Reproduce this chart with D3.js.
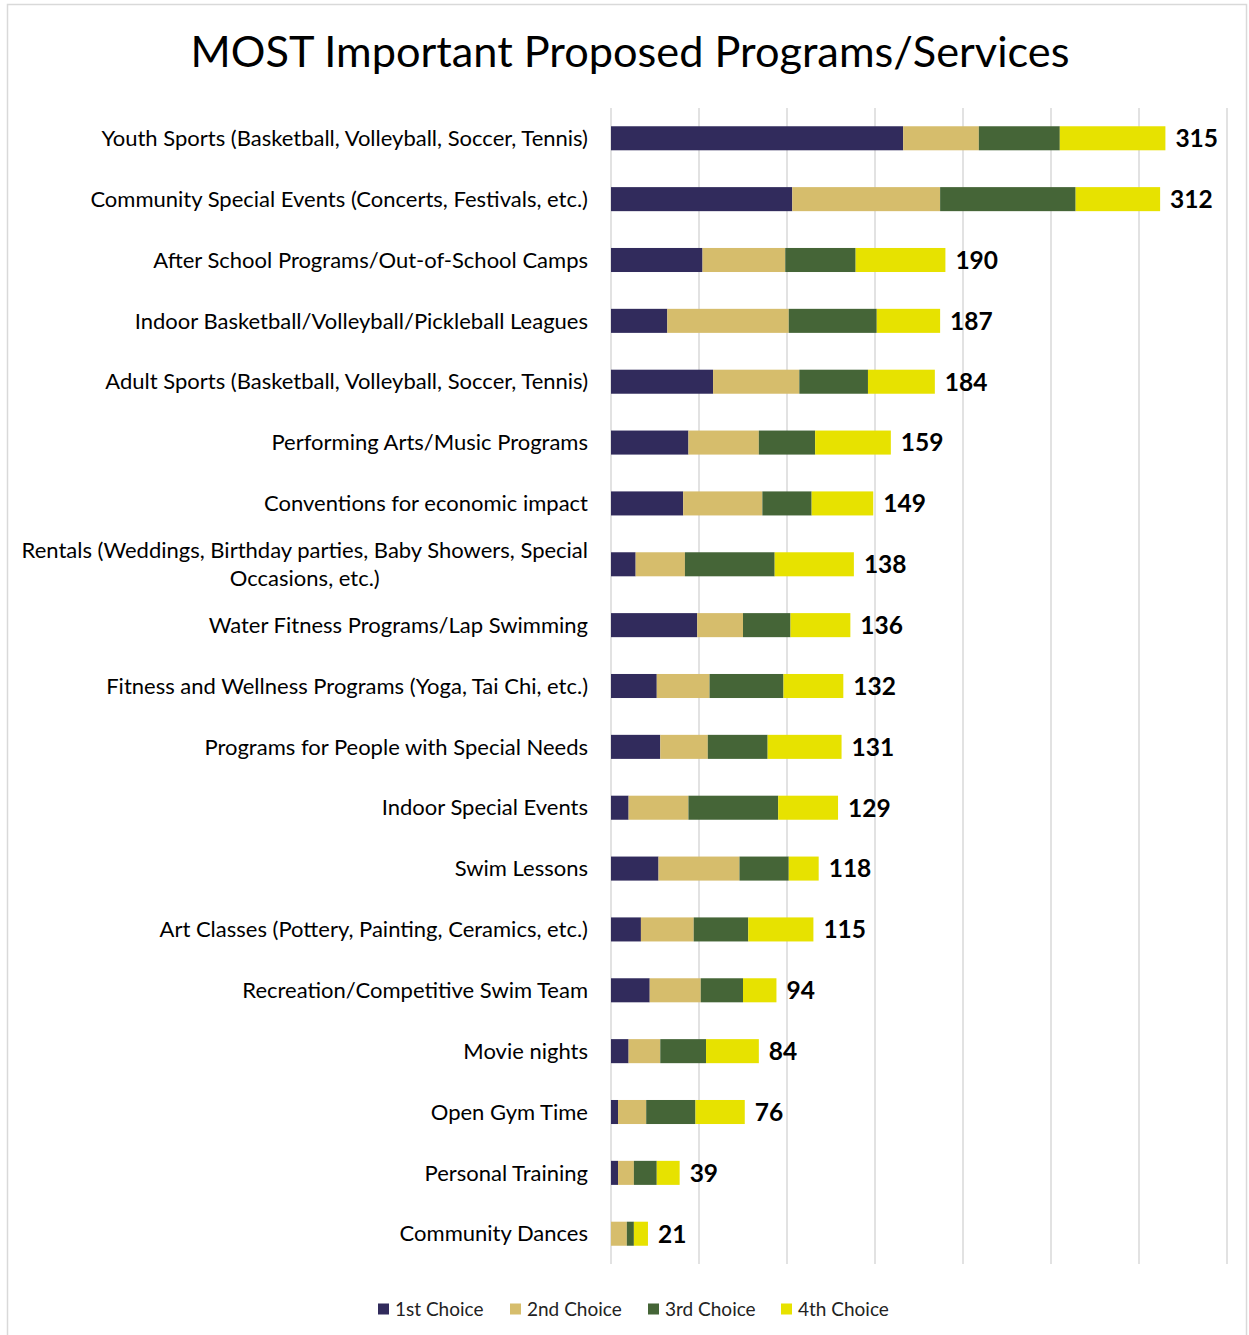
<!DOCTYPE html>
<html>
<head>
<meta charset="utf-8">
<script src="https://cdnjs.cloudflare.com/ajax/libs/d3/7.8.5/d3.min.js"></script>
<style>
  body { margin: 0; background: #fff; }
  text { font-family: Lato, "Open Sans", sans-serif; }
</style>
</head>
<body>
<div id="stacked-bar"></div>
<script>
var categories = [
  "Youth Sports (Basketball, Volleyball, Soccer, Tennis)",
  "Community Special Events (Concerts, Festivals, etc.)",
  "After School Programs/Out-of-School Camps",
  "Indoor Basketball/Volleyball/Pickleball Leagues",
  "Adult Sports (Basketball, Volleyball, Soccer, Tennis)",
  "Performing Arts/Music Programs",
  "Conventions for economic impact",
  "Rentals (Weddings, Birthday parties, Baby Showers, Special Occasions, etc.)",
  "Water Fitness Programs/Lap Swimming",
  "Fitness and Wellness Programs (Yoga, Tai Chi, etc.)",
  "Programs for People with Special Needs",
  "Indoor Special Events",
  "Swim Lessons",
  "Art Classes (Pottery, Painting, Ceramics, etc.)",
  "Recreation/Competitive Swim Team",
  "Movie nights",
  "Open Gym Time",
  "Personal Training",
  "Community Dances"
];
var seriesNames = ["1st Choice", "2nd Choice", "3rd Choice", "4th Choice"];
var first  = [166, 103, 52, 32, 58, 44, 41, 14, 49, 26, 28, 10, 27, 17, 22, 10, 4, 4, 0];
var second = [43, 84, 47, 69, 49, 40, 45, 28, 26, 30, 27, 34, 46, 30, 29, 18, 16, 9, 9];
var third  = [46, 77, 40, 50, 39, 32, 28, 51, 27, 42, 34, 51, 28, 31, 24, 26, 28, 13, 4];
var fourth = [60, 48, 51, 36, 38, 43, 35, 45, 34, 34, 42, 34, 17, 37, 19, 30, 28, 13, 8];
var xTicks = [0, 50, 100, 150, 200, 250, 300, 350];

var colors = ["#312b5c", "#d6bd6c", "#456537", "#e7e200"];

var W = 1249, H = 1335,
    x0 = 611, x1 = 1227, plotTop = 108, plotBottom = 1264;

var rows = categories.map(function(c, i) {
  return { cat: c, s0: first[i], s1: second[i], s2: third[i], s3: fourth[i],
           total: first[i] + second[i] + third[i] + fourth[i] };
});
var keys = ["s0", "s1", "s2", "s3"];

var svg = d3.select("#stacked-bar").append("svg")
  .attr("width", W).attr("height", H);

// chart border
svg.append("rect")
  .attr("x", 7.5).attr("y", 4.5).attr("width", 1239).attr("height", 1340)
  .attr("fill", "#fff").attr("stroke", "#d9d9d9").attr("stroke-width", 1.5);

var xScale = d3.scaleLinear().domain([0, 350]).range([x0, x1]);
var yScale = d3.scaleBand().domain(categories).range([plotTop, plotBottom])
  .paddingInner(0.605).paddingOuter(0.3);

svg.append("text")
  .attr("x", 630).attr("y", 67)
  .attr("text-anchor", "middle")
  .style("font-size", "43.3px")
  .attr("fill", "#000")
  .text("MOST Important Proposed Programs/Services");

// vertical gridlines
svg.append("g").selectAll("line")
  .data(xTicks)
  .enter().append("line")
  .attr("x1", function(d) { return xScale(d); })
  .attr("x2", function(d) { return xScale(d); })
  .attr("y1", plotTop).attr("y2", plotBottom)
  .attr("stroke", "#d9d9d9").attr("stroke-width", 1.5);

var layers = d3.stack().keys(keys)(rows);

var layer = svg.selectAll(".layer")
  .data(layers)
  .enter().append("g")
  .attr("class", "layer")
  .style("fill", function(d, i) { return colors[i]; });

layer.selectAll("rect")
  .data(function(d) { return d; })
  .enter().append("rect")
  .attr("x", function(d) { return xScale(d[0]); })
  .attr("y", function(d) { return yScale(d.data.cat); })
  .attr("width", function(d) { return xScale(d[1]) - xScale(d[0]); })
  .attr("height", yScale.bandwidth());

// total labels
svg.append("g").selectAll("text")
  .data(rows)
  .enter().append("text")
  .attr("x", function(d) { return xScale(d.total) + 10; })
  .attr("y", function(d) { return yScale(d.cat) + yScale.bandwidth() / 2; })
  .attr("dy", "0.36em")
  .style("font-size", "24.5px").style("font-weight", "bold")
  .attr("fill", "#000")
  .text(function(d) { return d.total; });

// category labels, wrapped like Excel (centred when wrapped)
var labelRight = 588, maxW = 575, lineH = 28;
var catG = svg.append("g");
rows.forEach(function(d) {
  var cy = yScale(d.cat) + yScale.bandwidth() / 2;
  var t = catG.append("text").style("font-size", "22px").attr("fill", "#000");
  var words = d.cat.split(" "), lines = [], line = [];
  words.forEach(function(w) {
    line.push(w);
    t.text(line.join(" "));
    if (t.node().getComputedTextLength() > maxW && line.length > 1) {
      line.pop();
      lines.push(line.join(" "));
      line = [w];
    }
  });
  lines.push(line.join(" "));
  t.text(null);
  if (lines.length == 1) {
    t.attr("x", labelRight).attr("y", cy).attr("dy", "0.35em")
      .attr("text-anchor", "end").text(lines[0]);
  } else {
    var widest = 0;
    lines.forEach(function(l) {
      t.text(l);
      widest = Math.max(widest, t.node().getComputedTextLength());
    });
    t.text(null).attr("text-anchor", "middle");
    lines.forEach(function(l, i) {
      t.append("tspan")
        .attr("x", labelRight - widest / 2)
        .attr("y", cy + (i - (lines.length - 1) / 2) * lineH)
        .attr("dy", "0.35em")
        .text(l);
    });
  }
});

// legend
var legendX = [378, 510, 648, 781];
var legend = svg.append("g").selectAll("g")
  .data(seriesNames)
  .enter().append("g")
  .attr("transform", function(d, i) { return "translate(" + legendX[i] + ",1309)"; });
legend.append("rect")
  .attr("x", 0).attr("y", -5.5).attr("width", 11).attr("height", 11)
  .attr("fill", function(d, i) { return colors[i]; });
legend.append("text")
  .attr("x", 17).attr("y", 0).attr("dy", "0.35em")
  .style("font-size", "19px").attr("fill", "#222")
  .text(function(d) { return d; });
</script>
</body>
</html>
